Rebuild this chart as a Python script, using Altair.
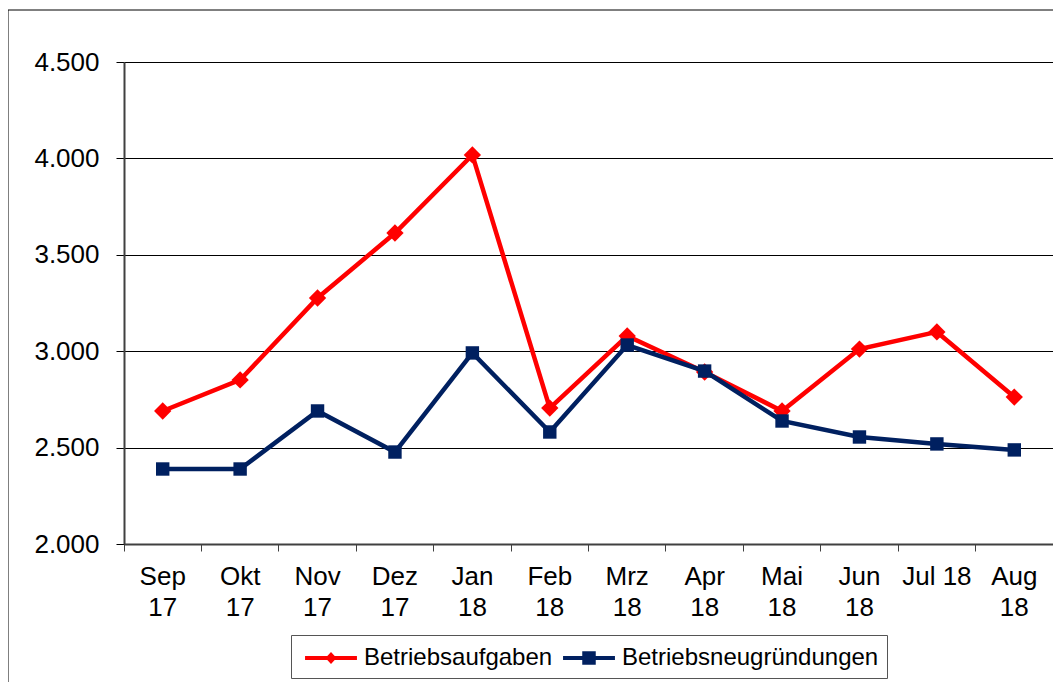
import altair as alt
import pandas as pd

# Data
months = ["Sep 17", "Okt 17", "Nov 17", "Dez 17", "Jan 18", "Feb 18",
          "Mrz 18", "Apr 18", "Mai 18", "Jun 18", "Jul 18", "Aug 18"]
tick_labels = ["Sep\n17", "Okt\n17", "Nov\n17", "Dez\n17", "Jan\n18", "Feb\n18",
               "Mrz\n18", "Apr\n18", "Mai\n18", "Jun\n18", "Jul 18", "Aug\n18"]
aufgaben = [2690, 2851, 3276, 3613, 4018, 2705, 3079, 2892, 2690, 3011, 3100, 2762]
gruendungen = [2389, 2389, 2690, 2477, 2991, 2581, 3032, 2897, 2638, 2555, 2519, 2488]
series = ["Betriebsaufgaben", "Betriebsneugründungen"]
colors = ["#FF0000", "#002060"]
y_ticks = [2000, 2500, 3000, 3500, 4000, 4500]

rows = []
for name, vals in zip(series, [aufgaben, gruendungen]):
    for m, lab, v in zip(months, tick_labels, vals):
        rows.append({"Monat": m, "Label": lab, "Serie": name, "Wert": v})
df = pd.DataFrame(rows)

FONT = "Liberation Sans"
W, H = 929, 482

x_enc = alt.X("Label:N", sort=tick_labels,
              scale=alt.Scale(type="band", paddingInner=0, paddingOuter=0),
              axis=alt.Axis(title=None, labelAngle=0,
                            labelExpr="split(datum.label, '\\n')",
                            labelFont=FONT, labelFontSize=26, labelColor="black",
                            labelLineHeight=31, labelPadding=12,
                            bandPosition=1, tickExtra=True, tickSize=7,
                            tickColor="#404040", tickWidth=1,
                            domainColor="#404040", domainWidth=2, grid=False))
y_enc = alt.Y("Wert:Q",
              scale=alt.Scale(domain=[2000, 4500], nice=False, zero=False),
              axis=alt.Axis(title=None, values=y_ticks,
                            labelExpr="replace(format(datum.value, ','), ',', '.')",
                            labelFont=FONT, labelFontSize=26, labelColor="black",
                            labelPadding=17, tickSize=8, tickColor="black",
                            domainColor="#404040", domainWidth=2,
                            grid=True, gridColor="black", gridWidth=1))

base = alt.Chart(df)


def series_layers(name, color, shape, size):
    sub = base.transform_filter(alt.datum.Serie == name)
    line = sub.mark_line(strokeWidth=4.5, color=color).encode(x=x_enc, y=y_enc)
    pts = sub.mark_point(shape=shape, filled=True, size=size, opacity=1,
                         color=color).encode(x=x_enc, y=y_enc)
    return [line, pts]


legend_paths = [
    "M-1.73,-0.13H1.73V0.13H-1.73Z M0,-0.4L0.37,0L0,0.4L-0.37,0Z",
    "M-1.73,-0.13H1.73V0.13H-1.73Z M-0.45,-0.45H0.45V0.45H-0.45Z",
]
leg = alt.Legend(title=None, orient="none", direction="horizontal",
                 legendX=167, legendY=573,
                 labelFont=FONT, labelFontSize=24, labelColor="black",
                 labelLimit=500,
                 symbolSize=900, symbolStrokeWidth=0, symbolOffset=17,
                 labelOffset=18, columnPadding=4, padding=8,
                 strokeColor="#555555", fillColor="white")
legend_layer = base.mark_point(filled=True, opacity=1).encode(
    x=alt.value(-3000), y=alt.value(-3000),
    color=alt.Color("Serie:N", scale=alt.Scale(domain=series, range=colors), legend=leg),
    shape=alt.Shape("Serie:N", scale=alt.Scale(domain=series, range=legend_paths), legend=leg),
)

frame = alt.Chart(alt.Data(values=[{}])).mark_rect(
    fillOpacity=0, stroke="black", strokeWidth=1).encode(
    x=alt.value(-116), x2=alt.value(1300), y=alt.value(-52), y2=alt.value(1000))

layers = [frame, legend_layer]
layers += series_layers(series[0], colors[0], "diamond", 300)
layers += series_layers(series[1], colors[1], "square", 180)

chart = alt.layer(*layers).properties(
    width=W, height=H,
    autosize=alt.AutoSizeParams(type="none"),
    padding={"left": 116, "top": 54, "right": 0, "bottom": 138},
).configure_view(stroke="#808080", strokeWidth=2).configure(background="white")

chart.save("out.html", embed_options={"renderer": "svg", "actions": False})
